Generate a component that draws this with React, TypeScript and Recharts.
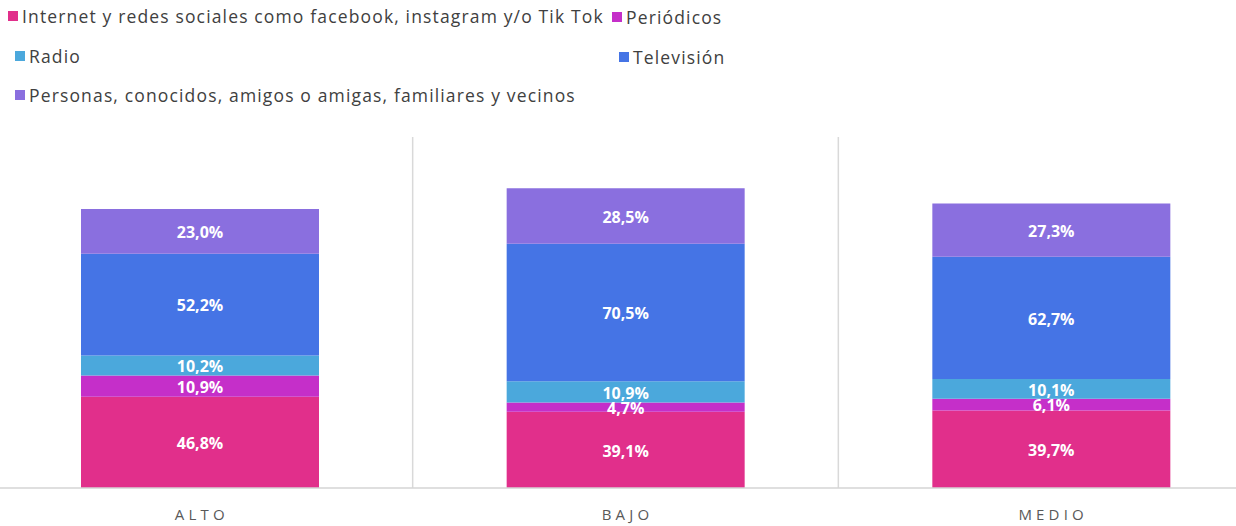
import { BarChart, Bar, XAxis, YAxis, CartesianGrid, LabelList } from 'recharts';

const categories = ['ALTO', 'BAJO', 'MEDIO'];

const internet = [46.8, 39.1, 39.7];
const periodicos = [10.9, 4.7, 6.1];
const radio = [10.2, 10.9, 10.1];
const television = [52.2, 70.5, 62.7];
const personas = [23.0, 28.5, 27.3];

const series = [
  { key: 'internet', name: 'Internet y redes sociales como facebook, instagram y/o Tik Tok', color: '#e12f8b', values: internet },
  { key: 'periodicos', name: 'Periódicos', color: '#c52fc9', values: periodicos },
  { key: 'radio', name: 'Radio', color: '#4ba8dc', values: radio },
  { key: 'television', name: 'Televisión', color: '#4574e5', values: television },
  { key: 'personas', name: 'Personas, conocidos, amigos o amigas, familiares y vecinos', color: '#8a6fdf', values: personas },
];

const data = categories.map((cat, i) => {
  const row: Record<string, string | number> = { cat };
  series.forEach((s) => {
    row[s.key] = s.values[i];
  });
  return row;
});

const FONT = '"Open Sans", sans-serif';

const fmt = (v: any) => `${Number(v).toFixed(1).replace('.', ',')}%`;

const LegendItem = ({ name, color }: { name: string; color: string }) => (
  <div style={{ display: 'flex', alignItems: 'center', whiteSpace: 'nowrap' }}>
    <span style={{ width: 10, height: 10, background: color, display: 'inline-block', marginRight: 4 }} />
    <span>{name}</span>
  </div>
);

const CatTick = (props: any) => {
  const { x, y, payload } = props;
  return (
    <text x={x + 2} y={y + 32} textAnchor="middle" fill="#595959" fontSize={15} fontFamily={FONT} letterSpacing={4.2}>
      {payload.value}
    </text>
  );
};

export default function App() {
  const legendRows = [
    [series[0], series[1]],
    [series[2], series[3]],
    [series[4]],
  ];
  return (
    <div style={{ position: 'absolute', left: 0, top: 0, width: 1236, height: 526, overflow: 'hidden', background: '#fff', fontFamily: FONT }}>
      <div style={{ position: 'absolute', left: 8, top: 4, fontSize: 17.5, letterSpacing: 1.15, color: '#404040' }}>
        {legendRows.map((row, r) => (
          <div key={r} style={{ display: 'flex', height: 26, marginBottom: 13.5 }}>
            <div style={{ width: 604, paddingLeft: r === 0 ? 0 : 7 }}>
              <LegendItem name={row[0].name} color={row[0].color} />
            </div>
            {row[1] && <LegendItem name={row[1].name} color={row[1].color} />}
          </div>
        ))}
      </div>
      <div style={{ position: 'absolute', left: -13, top: 131 }}>
        <BarChart width={1277} height={395} data={data} margin={{ top: 6, right: 0, bottom: 0, left: 0 }} barSize={238}>
          <CartesianGrid
            horizontal={false}
            stroke="#d9d9d9"
            strokeWidth={1.5}
            verticalCoordinatesGenerator={({ offset }: any) => [
              offset.left + offset.width / 3,
              offset.left + (2 * offset.width) / 3,
            ]}
          />
          <XAxis
            dataKey="cat"
            height={38}
            tickLine={false}
            tickSize={0}
            tickMargin={0}
            axisLine={{ stroke: '#d4d4d4', strokeWidth: 1.5 }}
            tick={<CatTick />}
            interval={0}
          />
          <YAxis hide domain={[0, 180]} />
          {series.map((s) => (
            <Bar key={s.key} dataKey={s.key} name={s.name} stackId="a" fill={s.color} isAnimationActive={false}>
              <LabelList
                dataKey={s.key}
                position="center"
                formatter={fmt}
                fill="#ffffff"
                fontSize={16}
                fontWeight={700}
                fontFamily={FONT}
                dy={1}
              />
            </Bar>
          ))}
        </BarChart>
      </div>
    </div>
  );
}
